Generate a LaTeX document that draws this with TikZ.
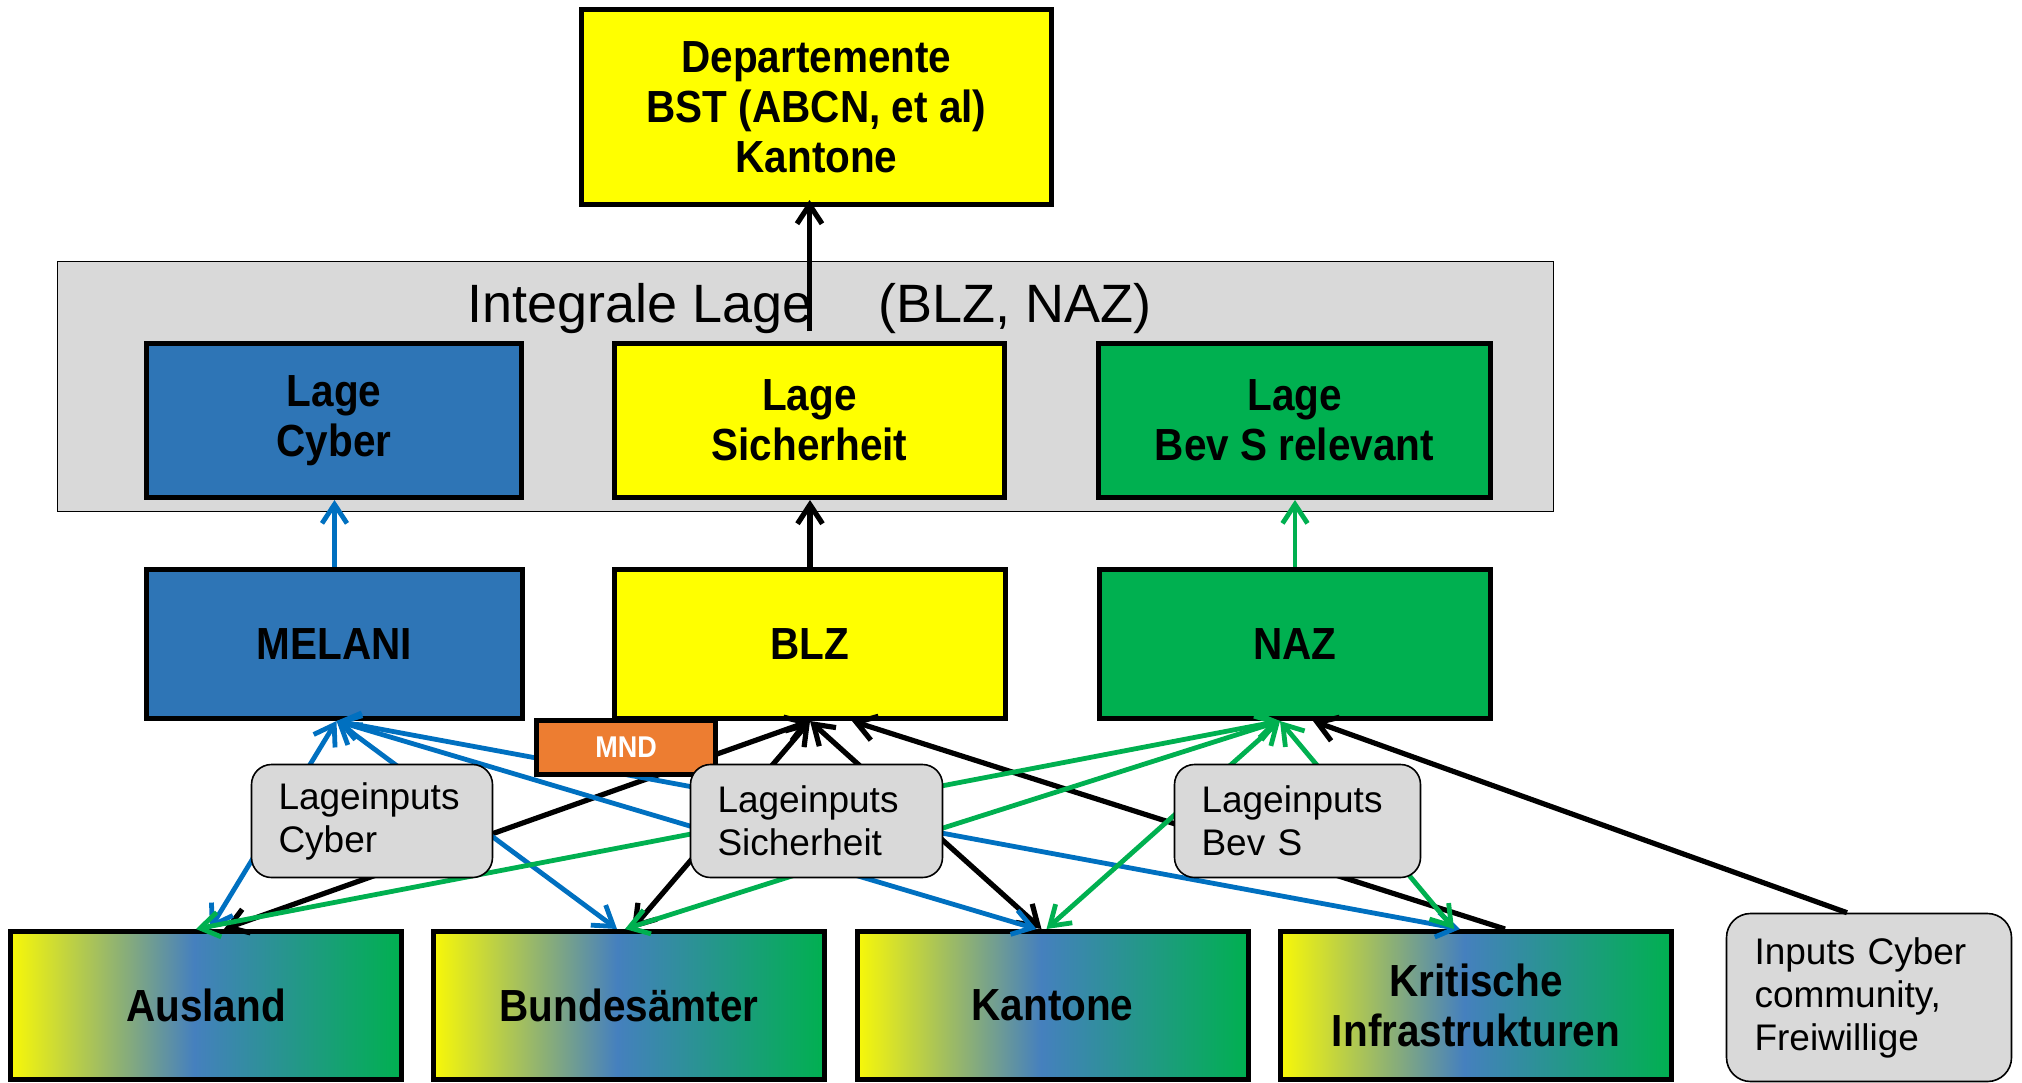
\documentclass[tikz,border=0pt]{standalone}
\usepackage{fontspec}
\setmainfont{Liberation Sans}
\newfontfamily\condfont{Liberation Sans}[FakeStretch=0.9]
\usetikzlibrary{arrows.meta,calc}
\definecolor{cBlueBox}{HTML}{2E75B6}
\definecolor{cYel}{HTML}{FFFF00}
\definecolor{cGrn}{HTML}{00B050}
\definecolor{cGrey}{HTML}{D9D9D9}
\definecolor{cOrg}{HTML}{ED7D31}
\definecolor{cBlueLn}{HTML}{0070C0}
\definecolor{gY}{HTML}{F8F808}
\definecolor{gB}{HTML}{4580BE}
\definecolor{gG}{HTML}{00B050}
\pgfdeclarehorizontalshading{ybg}{100bp}{color(0bp)=(gY); color(25bp)=(gY); color(48.5bp)=(gB); color(75bp)=(gG); color(100bp)=(gG)}
\begin{document}
\begin{tikzpicture}[x=0.5pt,y=-0.5pt,
 bigbox/.style={draw=black, line width=2.5pt, inner sep=0pt, font=\condfont\fontsize{22.5}{25}\selectfont\bfseries, align=center},
 inbox/.style={draw=black, line width=0.8pt, fill=cGrey, rounded corners=10pt, font=\fontsize{18.5}{21.5}\selectfont, align=left, inner xsep=13.5pt, inner ysep=0pt},
 ln/.style={line width=2.4pt},
 bln/.style={line width=2.6pt},
 >={Straight Barb[length=9.5pt,width=12.5pt]}]
\useasboundingbox (0,0) rectangle (2022,1082);
% integrale lage frame
\node[draw=black, line width=0.8pt, fill=cGrey, minimum width=748pt, minimum height=125pt, inner sep=0pt] (grey) at (805.5,386.5) {};
\node[anchor=base west, inner sep=0pt, font=\fontsize{27}{32}\selectfont] (intl) at (467,322) {Integrale Lage\hspace{33pt}(BLZ, NAZ)};
% top box
\node[bigbox, fill=cYel, minimum width=235pt, minimum height=97.5pt] (top) at (816.5,107) {Departemente\\BST (ABCN, et al)\\Kantone};
% Lage boxes
\node[bigbox, fill=cBlueBox, minimum width=187.5pt, minimum height=77pt] (lcy) at (334,420.5) {Lage\\Cyber};
\node[bigbox, fill=cYel, minimum width=195pt, minimum height=77pt] (lsi) at (809.5,420.5) {Lage\\Sicherheit};
\node[bigbox, fill=cGrn, minimum width=196pt, minimum height=77pt] (lbv) at (1294.5,420.5) {Lage\\Bev S relevant};
% middle boxes
\node[bigbox, fill=cBlueBox, minimum width=188pt, minimum height=74.5pt] (mel) at (334.5,644) {MELANI};
\node[bigbox, fill=cYel, minimum width=195.5pt, minimum height=74.5pt] (blz) at (810,644) {BLZ};
\node[bigbox, fill=cGrn, minimum width=195.5pt, minimum height=74.5pt] (naz) at (1295,644) {NAZ};
% bottom boxes
\node[bigbox, shade, shading=ybg, minimum width=195.5pt, minimum height=74pt] (aus) at (206,1005.5) {Ausland};
\node[bigbox, shade, shading=ybg, minimum width=195.5pt, minimum height=74pt] (bun) at (629,1005.5) {Bundesämter};
\node[bigbox, shade, shading=ybg, minimum width=195.5pt, minimum height=74pt] (kan) at (1052.5,1005.5) {Kantone};
\node[bigbox, shade, shading=ybg, minimum width=195.5pt, minimum height=74pt] (kri) at (1476,1005.5) {Kritische\\Infrastrukturen};
\node[inbox, text width=114.5pt, inner xsep=14pt, minimum height=84pt, rounded corners=12pt] (icc) at (1869,997.5) {Inputs Cyber\\community,\\Freiwillige};
% vertical arrows
\draw[ln, draw=cBlueLn, ->] (mel.north) -- (mel.north |- lcy.south);
\draw[bln, black, ->] (blz.north) -- (blz.north |- lsi.south);
\draw[ln, draw=cGrn, ->] (naz.north) -- (naz.north |- lbv.south);
\coordinate (topin) at ([yshift=3.5pt]top.south);
\draw[bln, black, ->] ([yshift=5pt]lsi.north) -- (lsi.north |- topin);
% black connectors
\draw[bln, black, <->] (blz.south) -- ([xshift=9pt]aus.north);
\draw[bln, black, <->] (blz.south) -- ([xshift=1.5pt]bun.north);
\draw[bln, black, <->] (blz.south) -- ([xshift=-5.5pt]kan.north);
\draw[bln, black, <-] ([xshift=21pt]blz.south) -- ([xshift=14.5pt]kri.north);
\draw[bln, black, <-] ([xshift=9pt]naz.south) -- ([xshift=-11pt]icc.north);
% blue connectors
\draw[ln, cBlueLn, <->] ([xshift=1pt]mel.south) -- ([xshift=2pt]aus.north);
\draw[ln, cBlueLn, <->] ([xshift=1pt]mel.south) -- ([xshift=-6pt]bun.north);
\draw[ln, cBlueLn, <->] ([xshift=1pt]mel.south) -- ([xshift=-8pt]kan.north);
\draw[ln, cBlueLn, <->] ([xshift=1pt]mel.south) -- ([xshift=-8pt]kri.north);
% green connectors
\draw[ln, cGrn, <->] ([xshift=-7.5pt]naz.south) -- ([xshift=-5pt]aus.north);
\draw[ln, cGrn, <->] ([xshift=-7.5pt]naz.south) -- ([xshift=-2pt]bun.north);
\draw[ln, cGrn, <->] ([xshift=-7.5pt]naz.south) -- ([xshift=-3pt]kan.north);
\draw[ln, cGrn, <->] ([xshift=-7.5pt]naz.south) -- ([xshift=-11pt]kri.north);
% label boxes on top of connectors
\node[draw=black, line width=2.5pt, fill=cOrg, text=white, font=\condfont\fontsize{15}{16}\selectfont\bfseries, minimum width=89.5pt, minimum height=27pt, inner sep=0pt] (mnd) at (626,747.5) {MND};
\node[inbox, text width=93.5pt, minimum height=56.5pt] (lic) at (372,821) {Lageinputs\\Cyber};
\node[inbox, text width=99pt, minimum height=56.5pt] (lis) at (816.5,821) {Lageinputs\\Sicherheit};
\node[inbox, text width=96pt, minimum height=56.5pt] (lib) at (1297.5,821) {Lageinputs\\Bev S};
\end{tikzpicture}
\end{document}
